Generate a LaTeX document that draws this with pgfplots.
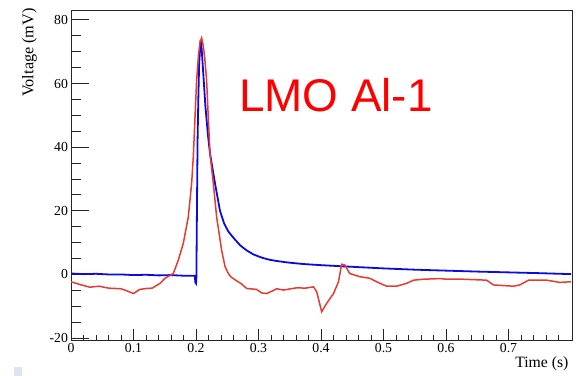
\documentclass[border=0pt]{standalone}
\usepackage{pgfplots}
\pgfplotsset{compat=1.18}
\usepackage{fontspec}
\setmainfont{Liberation Serif}
\newfontfamily\arialfont{Liberation Sans}
\definecolor{rootblue}{RGB}{10,10,225}
\definecolor{rootred}{RGB}{232,58,48}
\definecolor{sq}{RGB}{222,228,238}
\begin{document}
\begin{tikzpicture}
\pgfplotsset{
  common/.style={
    scale only axis, width=501bp, height=330bp,
    xmin=0, xmax=0.8016, ymin=-20.6, ymax=83.1,
    axis line style={black!85, line width=0.8bp},
    tick style={black!85, line width=0.8bp},
    tick align=inside, tick pos=left,
    /pgf/number format/assume math mode=true,
    ticklabel style={font=\fontsize{13.8}{16}\selectfont},
    clip=true,
  }
}
% axis for y ticks
\begin{axis}[common,
  xtick=\empty,
  ytick={-20,0,20,40,60,80},
  yticklabels={-20,0,20,40,60,80},
  minor ytick={-15,-10,-5,5,10,15,25,30,35,45,50,55,65,70,75},
  major tick length=18bp, minor tick length=10bp,
  yticklabel style={xshift=0.5bp},
  ylabel={Voltage (mV)},
  ylabel style={font=\fontsize{16.3}{19}\selectfont, at={(axis description cs:-0.0613,1.016)}, anchor=south east, rotate=0},
]
\end{axis}
% axis for x ticks and data
\begin{axis}[common,
  ytick=\empty,
  xtick={0,0.1,0.2,0.3,0.4,0.5,0.6,0.7},
  xticklabels={0,0.1,0.2,0.3,0.4,0.5,0.6,0.7},
  minor xtick={0.02,0.04,0.06,0.08,0.12,0.14,0.16,0.18,0.22,0.24,0.26,0.28,0.32,0.34,0.36,0.38,0.42,0.44,0.46,0.48,0.52,0.54,0.56,0.58,0.62,0.64,0.66,0.68,0.72,0.74,0.76,0.78},
  major tick length=11bp, minor tick length=5.5bp,
  xticklabel style={yshift=0bp},
  xlabel={Time (s)},
  xlabel style={font=\fontsize{15.8}{19}\selectfont, at={(axis description cs:1,0)}, anchor=north east, yshift=-13bp},
]
\addplot[rootblue, line width=1.8bp] coordinates {
(0,0.3) (0.02,0.1) (0.04,0.2) (0.06,0.0) (0.08,0.0) (0.1,-0.2) (0.12,-0.1) (0.14,-0.3) (0.16,-0.2) (0.18,-0.4) (0.198,-0.4)
(0.199,-2.5) (0.2,-2.8) (0.2006,-1) (0.2015,20) (0.2025,42) (0.2037,55) (0.205,66) (0.2065,71) (0.2075,73.7)
(0.209,71) (0.2117,63) (0.215,53) (0.219,44) (0.2224,38) (0.225,35) (0.2304,28.6) (0.2384,20) (0.245,16)
(0.2517,13.5) (0.26,11.5) (0.2704,9.2) (0.28,7.7) (0.2917,6.3) (0.305,5.3) (0.318,4.6) (0.33,4.2) (0.345,3.8)
(0.37,3.3) (0.393,3.0) (0.43,2.6) (0.45,2.4) (0.5,1.9) (0.55,1.5) (0.6,1.2) (0.65,0.9) (0.7,0.65) (0.75,0.4) (0.8,0.1)
};
\addplot[rootred, line width=1.5bp] coordinates {
(0,-2.3) (0.015,-3.2) (0.03,-4.0) (0.045,-3.7) (0.06,-4.3) (0.08,-4.5) (0.09,-5.2) (0.1,-6.0) (0.11,-4.7) (0.121,-4.4) (0.13,-4.3)
(0.1424,-2.8) (0.1504,-1.2) (0.1637,0.3) (0.1717,4.5) (0.1797,9.8) (0.1877,18.1) (0.193,28.6) (0.1957,37) (0.199,52)
(0.201,61) (0.204,69) (0.2065,73) (0.209,74.3) (0.2115,72) (0.214,68) (0.217,61) (0.2195,50) (0.2224,38) (0.2277,28.6)
(0.233,18.1) (0.2411,7.5) (0.2464,2.5) (0.2517,0.3) (0.256,-0.8) (0.265,-2) (0.273,-3.0) (0.281,-4.4) (0.297,-4.7) (0.305,-5.8) (0.313,-6.0)
(0.322,-5.2) (0.329,-4.5) (0.34,-4.9) (0.361,-4.2) (0.375,-4.3) (0.388,-3.9) (0.393,-5.4) (0.397,-8.5) (0.401,-11.7)
(0.409,-9.1) (0.42,-6.0) (0.428,-2.3) (0.433,3.2) (0.438,3.0) (0.446,0.3) (0.462,-0.7) (0.478,-1.2) (0.489,-2.3)
(0.505,-3.7) (0.521,-3.7) (0.537,-2.8) (0.548,-1.8) (0.564,-1.5) (0.59,-1.3) (0.601,-1.5) (0.627,-1.5) (0.665,-1.8)
(0.676,-3.3) (0.708,-3.7) (0.718,-3.3) (0.732,-1.8) (0.761,-1.8) (0.782,-2.5) (0.8,-2.3)
};
\node[text=red, font=\arialfont\fontsize{46}{50}\selectfont] at (axis cs:0.424,56.4) {LMO Al-1};
\end{axis}
\fill[sq] (-57bp,-36bp) rectangle (-49.3bp,-27bp);
\pgfresetboundingbox
\path[use as bounding box] (-71bp,-36bp) rectangle (509bp,340bp);
\end{tikzpicture}
\end{document}
